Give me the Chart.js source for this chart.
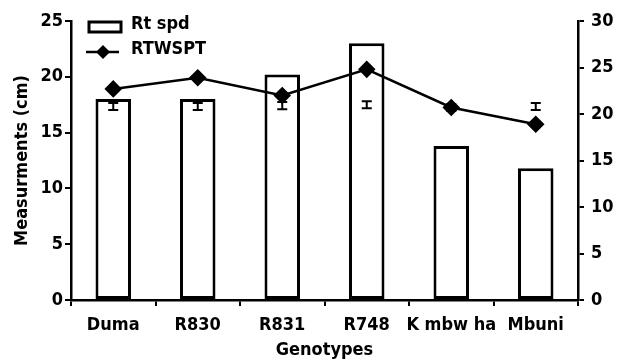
<!DOCTYPE html>
<html>
<head>
<meta charset="utf-8">
<script src="https://cdn.jsdelivr.net/npm/chart.js@4/dist/chart.umd.min.js"></script>
<style>
  html, body { margin: 0; padding: 0; background: #fff; }
  #wrap { width: 619px; height: 362px; }
</style>
</head>
<body>
<div id="wrap"><canvas id="myChart"></canvas></div>
<script>
// Werte
const genotypes = ["Duma", "R830", "R831", "R748", "K mbw ha", "Mbuni"];
const rtSpd = [18, 18, 20.2, 23, 13.8, 11.8];          // linke Achse
const rtwspt = [22.7, 23.9, 22.0, 24.8, 20.7, 18.9];   // rechte Achse
const errMid = [20.8, 20.8, 20.9, 21.0, 20.7, 20.8];   // Fehlerbalken (rechte Achse)
const errHalf = [0.38, 0.38, 0.38, 0.38, 0.38, 0.38];
const leftTicks = [0, 5, 10, 15, 20, 25];
const rightTicks = [0, 5, 10, 15, 20, 25, 30];

const FAM = "'DejaVu Sans Condensed', 'DejaVu Sans', sans-serif";
const fnt = { family: FAM, size: 18, weight: "bold" };

// Fehlerbalken zeichnen
const errorBars = {
  id: "errorBars",
  afterDatasetsDraw(chart) {
    const ctx = chart.ctx;
    const x = chart.scales.x, y1 = chart.scales.y1;
    ctx.save();
    ctx.strokeStyle = "#000";
    ctx.lineWidth = 2;
    errMid.forEach((m, i) => {
      const px = x.getPixelForValue(i);
      const top = y1.getPixelForValue(m + errHalf[i]);
      const bot = y1.getPixelForValue(m - errHalf[i]);
      ctx.beginPath();
      ctx.moveTo(px, top); ctx.lineTo(px, bot);
      ctx.moveTo(px - 5, top); ctx.lineTo(px + 5, top);
      ctx.moveTo(px - 5, bot); ctx.lineTo(px + 5, bot);
      ctx.stroke();
    });
    ctx.restore();
  }
};

// eigene Legende oben links
const myLegend = {
  id: "myLegend",
  afterDraw(chart) {
    const ctx = chart.ctx;
    const a = chart.chartArea;
    const bar = chart.data.datasets[1], line = chart.data.datasets[0];
    ctx.save();
    ctx.strokeStyle = "#000";
    ctx.fillStyle = "#000";
    ctx.lineWidth = 3;
    ctx.strokeRect(a.left + 18, a.top + 1, 32, 10);
    ctx.lineWidth = 2.5;
    ctx.beginPath();
    ctx.moveTo(a.left + 15, a.top + 31);
    ctx.lineTo(a.left + 48, a.top + 31);
    ctx.stroke();
    const cx = a.left + 32, cy = a.top + 31, r = 7;
    ctx.beginPath();
    ctx.moveTo(cx, cy - r); ctx.lineTo(cx + r, cy); ctx.lineTo(cx, cy + r); ctx.lineTo(cx - r, cy);
    ctx.closePath();
    ctx.fill();
    ctx.font = "bold 18px " + FAM;
    ctx.textBaseline = "middle";
    ctx.textAlign = "left";
    ctx.fillText(bar.label, a.left + 60, a.top + 3);
    ctx.fillText(line.label, a.left + 60, a.top + 28);
    ctx.restore();
  }
};

const data = {
  labels: genotypes,
  datasets: [
    {
      type: "line",
      label: "RTWSPT",
      data: rtwspt,
      yAxisID: "y1",
      borderColor: "#000",
      borderWidth: 2.5,
      pointStyle: "rectRot",
      pointRadius: 7,
      pointBackgroundColor: "#000",
      pointBorderColor: "#000",
      tension: 0,
      order: 0
    },
    {
      type: "bar",
      label: "Rt spd",
      data: rtSpd,
      yAxisID: "y",
      backgroundColor: "#fff",
      borderColor: "#000",
      borderWidth: 3,
      borderSkipped: false,
      barPercentage: 0.42,
      categoryPercentage: 1,
      order: 1
    }
  ]
};

const config = {
  type: "bar",
  data: data,
  options: {
    responsive: true,
    maintainAspectRatio: false,
    animation: false,
    layout: { padding: { top: 21, left: 0, right: 0, bottom: 0 } },
    scales: {
      x: {
        afterFit: s => { s.height = 62; },
        grid: {
          drawOnChartArea: false,
          color: "#000",
          tickColor: "#000",
          tickLength: 6,
          lineWidth: 2
        },
        border: { color: "#000", width: 2.5 },
        ticks: { padding: 9, font: fnt, color: "#000", maxRotation: 0, minRotation: 0, autoSkip: false },
        title: { display: true, text: "Genotypes", font: fnt, color: "#000", padding: { top: 0, bottom: 1 } }
      },
      y: {
        position: "left",
        min: 0,
        max: 25,
        afterFit: s => { s.width = 71; },
        afterBuildTicks: s => { s.ticks = leftTicks.map(v => ({ value: v })); },
        grid: {
          drawOnChartArea: false,
          tickColor: "#000",
          tickLength: 6,
          lineWidth: 2
        },
        border: { color: "#000", width: 2.5 },
        ticks: { padding: 2, font: fnt, color: "#000" },
        title: { display: true, text: "Measurments (cm)", font: fnt, color: "#000", padding: { top: 12, bottom: 0 } }
      },
      y1: {
        position: "right",
        min: 0,
        max: 30,
        afterFit: s => { s.width = 41; },
        afterBuildTicks: s => { s.ticks = rightTicks.map(v => ({ value: v })); },
        grid: {
          drawOnChartArea: false,
          tickColor: "#000",
          tickLength: 6,
          lineWidth: 2
        },
        border: { color: "#000", width: 2.5 },
        ticks: { padding: 7, font: fnt, color: "#000" }
      }
    },
    plugins: {
      legend: { display: false },
      tooltip: { enabled: false }
    },
    hover: { mode: null }
  },
  plugins: [errorBars, myLegend]
};

const myChart = new Chart(document.getElementById("myChart"), config);
</script>
</body>
</html>
